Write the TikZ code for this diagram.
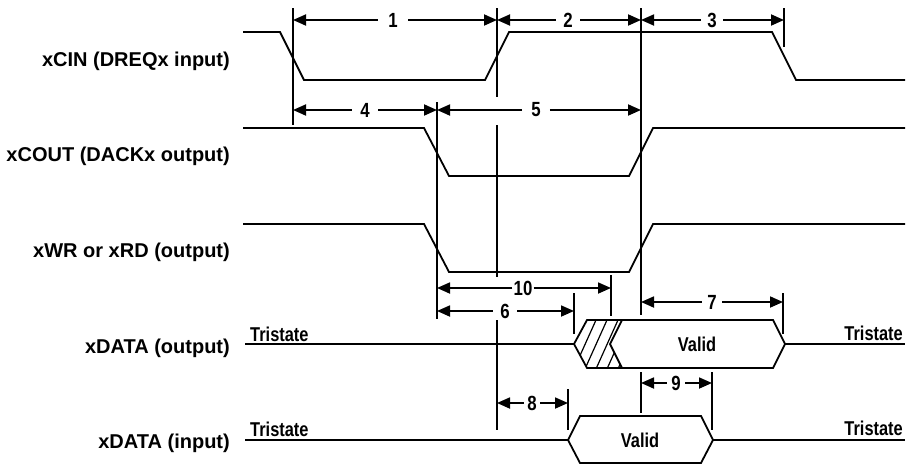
\documentclass[tikz,border=0pt]{standalone}
\usepackage{fontspec}
\setmainfont{Liberation Sans}
\newfontfamily\narrowfont[FakeStretch=0.82]{Liberation Sans Bold}
\usetikzlibrary{arrows.meta}
\begin{document}
\begin{tikzpicture}[x=1pt,y=-1pt,
  sig/.style={line width=1.8pt, line join=miter},
  vline/.style={line width=1.8pt},
  dimline/.style={line width=1.8pt,-{Triangle[length=13pt,width=11pt]}},
  hatchline/.style={line width=1.2pt},
  lbl/.style={font=\fontsize{20}{24}\selectfont\bfseries, anchor=base east, inner sep=0pt},
  num/.style={font=\narrowfont\fontsize{20.5}{24}\selectfont, inner ysep=0pt, inner xsep=#1},
  num/.default=7pt,
  txt/.style={font=\narrowfont\fontsize{20}{24}\selectfont, inner sep=0pt}
]
\useasboundingbox (0,0) rectangle (907,466);

% signal names
\node[lbl] (nCIN)  at (230,66)  {xCIN (DREQx input)};
\node[lbl] (nCOUT) at (230,161) {xCOUT (DACKx output)};
\node[lbl] (nWR)   at (230,257) {xWR or xRD (output)};
\node[lbl] (nDO)   at (230,353) {xDATA (output)};
\node[lbl] (nDI)   at (230,448) {xDATA (input)};

% waveforms
\draw[sig] (243,32) -- (280,32) -- (304,80) -- (485,80) -- (509,32) -- (772,32) -- (796,80) -- (905,80);
\draw[sig] (243,128) -- (424,128) -- (449,176) -- (629,176) -- (653,128) -- (905,128);
\draw[sig] (243,224) -- (424,224) -- (449,272) -- (629,272) -- (653,224) -- (905,224);

% xDATA output
\draw[sig] (245,344) -- (574,344);
\draw[sig] (574,344) -- (587,320) -- (773,320) -- (785,344) -- (773,368) -- (587,368) -- cycle;
\draw[sig] (785,344) -- (905,344);
\draw[sig] (622,320) -- (610,344) -- (622,368);
\begin{scope}
  \clip (574,344) -- (587,320) -- (622,320) -- (610,344) -- (622,368) -- (587,368) -- cycle;
  \foreach \t in {596,607,618,629,640}
    \draw[hatchline] (\t,320) -- (\t-27,380);
\end{scope}
\node[txt, anchor=base west] (tso1) at (250,341) {Tristate};
\node[txt, anchor=base east] (tso2) at (903,340) {Tristate};
\node[txt] (vo) at (697,344) {Valid};

% xDATA input
\draw[sig] (245,440) -- (568,440);
\draw[sig] (568,440) -- (580,416) -- (701,416) -- (713,440) -- (701,463) -- (580,463) -- cycle;
\draw[sig] (713,440) -- (905,440);
\node[txt, anchor=base west] (tsi1) at (250,436) {Tristate};
\node[txt, anchor=base east] (tsi2) at (903,435) {Tristate};
\node[txt] (vi) at (640,440) {Valid};

% vertical reference lines
\draw[vline] (293,8) -- (293,125);
\draw[vline] (497,8) -- (497,97);
\draw[vline] (497,125) -- (497,277);
\draw[vline] (497,320) -- (497,430);
\draw[vline] (641,8) -- (641,315);
\draw[vline] (641,372) -- (641,413);
\draw[vline] (784,8) -- (784,47);
\draw[vline] (437,102) -- (437,319);
\draw[vline] (611,275) -- (611,316);
\draw[vline] (574,293) -- (574,334);
\draw[vline] (783,293) -- (783,334);
\draw[vline] (712,372) -- (712,430);
\draw[vline] (568,389) -- (568,430);

% timing dimensions
\node[num=10.5pt] (l1) at (393,20) {1};
\draw[dimline] (l1.west) -- (293,20); \draw[dimline] (l1.east) -- (497,20);
\node[num=7.5pt] (l2) at (568,20) {2};
\draw[dimline] (l2.west) -- (497,20); \draw[dimline] (l2.east) -- (641,20);
\node[num=6.5pt] (l3) at (712,20) {3};
\draw[dimline] (l3.west) -- (641,20); \draw[dimline] (l3.east) -- (784,20);
\node[num=8.5pt] (l4) at (365,110) {4};
\draw[dimline] (l4.west) -- (293,110); \draw[dimline] (l4.east) -- (437,110);
\node[num=9pt] (l5) at (536,110) {5};
\draw[dimline] (l5.west) -- (437,110); \draw[dimline] (l5.east) -- (641,110);
\node[num=1pt] (l10) at (523,288) {10};
\draw[dimline] (l10.west) -- (437,288); \draw[dimline] (l10.east) -- (611,288);
\node[num=7.5pt] (l6) at (505,311) {6};
\draw[dimline] (l6.west) -- (437,311); \draw[dimline] (l6.east) -- (574,311);
\node[num=5.5pt] (l7) at (712,302) {7};
\draw[dimline] (l7.west) -- (641,302); \draw[dimline] (l7.east) -- (783,302);
\node[num=4.5pt] (l9) at (676,383) {9};
\draw[dimline] (l9.west) -- (641,383); \draw[dimline] (l9.east) -- (712,383);
\node[num=3.5pt] (l8) at (532,403) {8};
\draw[dimline] (l8.west) -- (497,403); \draw[dimline] (l8.east) -- (568,403);
\end{tikzpicture}
\end{document}
